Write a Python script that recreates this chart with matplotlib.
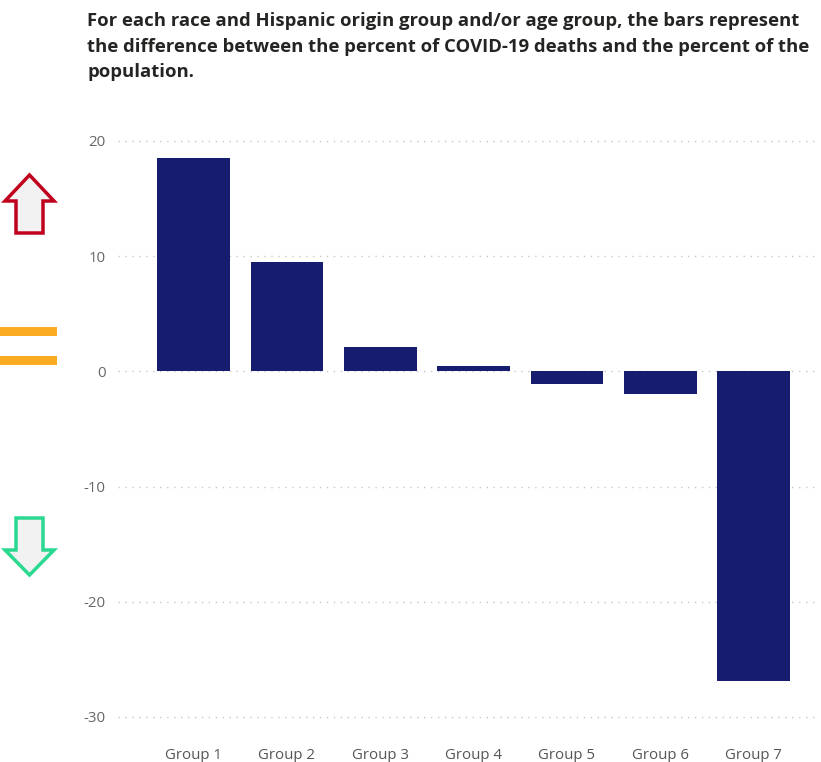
import matplotlib.pyplot as plt
from matplotlib.patches import Polygon, Rectangle
import numpy as np

groups = ["Group 1", "Group 2", "Group 3", "Group 4", "Group 5", "Group 6", "Group 7"]
diffs = [18.5, 9.5, 2.1, 0.5, -1.1, -2.0, -26.9]
yticks = [-30, -20, -10, 0, 10, 20]

W, H = 821, 762
fig = plt.figure(figsize=(W / 100, H / 100), dpi=100)

def fx(px):
    return px / W

def fy(py):
    return 1 - py / H

ax = fig.add_axes([fx(118), fy(717), fx(818) - fx(118), fy(141) - fy(717)])
x = np.arange(len(groups))
ax.bar(x, diffs, width=0.78, color='#171d6e', zorder=3)
ax.set_xlim(-0.81, 6.69)
ax.set_ylim(-30, 20)
ax.set_yticks(yticks)
ax.set_xticks(x)
ax.set_xticklabels(groups, fontsize=10.8, color='#555555', family='Open Sans')
ax.set_yticklabels([str(v) for v in yticks], fontsize=10.8, color='#666666', family='Open Sans')
ax.tick_params(length=0)
ax.tick_params(axis='x', pad=22)
ax.tick_params(axis='y', pad=9)
for s in ax.spines.values():
    s.set_visible(False)
ax.grid(axis='y', linestyle=(0, (1, 4)), color='#c8c8c8', linewidth=1, clip_on=False)
ax.set_axisbelow(True)

fig.text(fx(87), fy(12), "For each race and Hispanic origin group and/or age group, the bars represent\n"
         "the difference between the percent of COVID-19 deaths and the percent of the\n"
         "population.", fontsize=13.3, fontweight='bold', color='#252423', family='Open Sans',
         va='top', ha='left', linespacing=1.55)

# up arrow (red), down arrow (green)
up = [(16, 233), (43, 233), (43, 201), (54, 201), (29.5, 175), (5, 201), (16, 201)]
down = [(16, 518), (43, 518), (43, 550), (54, 550), (29.5, 575), (5, 550), (16, 550)]
for pts, col in [(up, '#c0011d'), (down, '#2ad88f')]:
    fig.patches.append(Polygon([(fx(a), fy(b)) for a, b in pts], closed=True,
                               transform=fig.transFigure, facecolor='#f2f2f2',
                               edgecolor=col, linewidth=2.5))
# equal sign
for top in (327, 356):
    fig.patches.append(Rectangle((fx(0), fy(top + 9)), fx(57), fy(top) - fy(top + 9),
                                 transform=fig.transFigure, facecolor='#fbab1f', edgecolor='none'))

fig.savefig("out.png", dpi=100)
